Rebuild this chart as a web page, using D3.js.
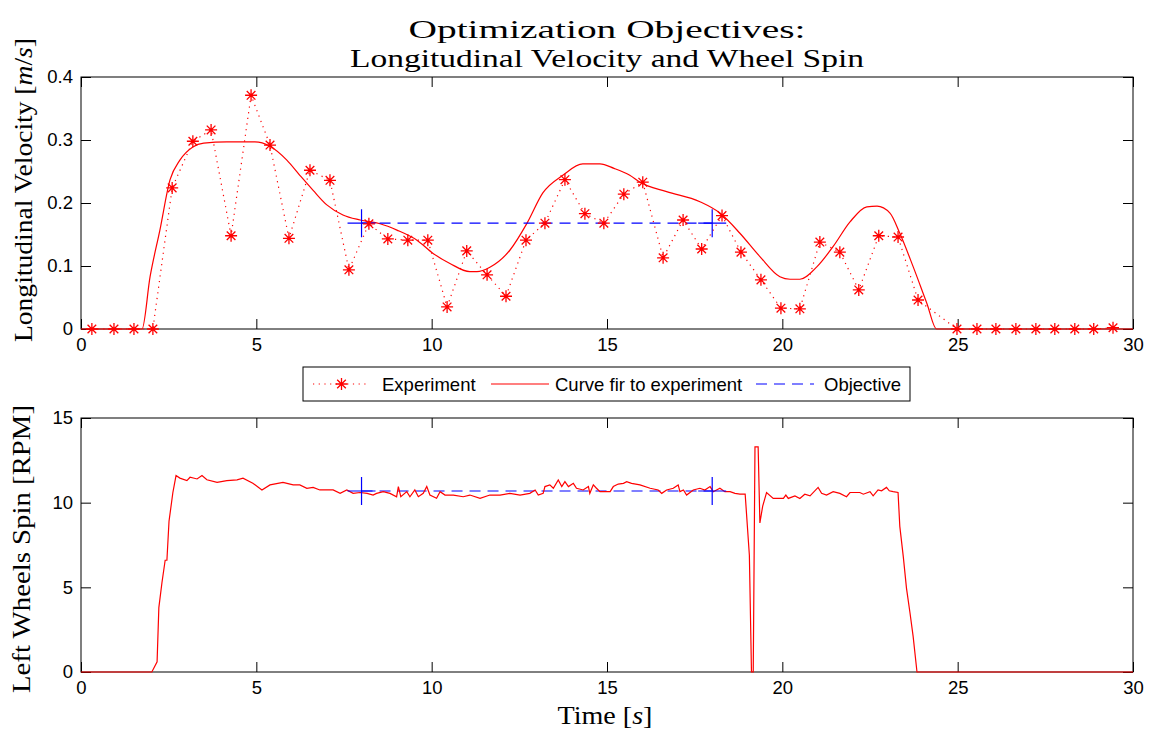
<!DOCTYPE html>
<html>
<head>
<meta charset="utf-8">
<script src="https://cdn.jsdelivr.net/npm/d3@7"></script>
<style>
  body { margin: 0; background: #fff; }
  text { fill: #000; }
</style>
</head>
<body>
<svg id="chart" width="1151" height="735"></svg>
<script>
// ---- data ----
const xTicks = [0, 5, 10, 15, 20, 25, 30];
const velTicks = [0, 0.1, 0.2, 0.3, 0.4];
const rpmTicks = [0, 5, 10, 15];

// experiment samples (stars + dotted line)
const expTime = [0.31, 0.94, 1.51, 2.05, 2.6, 3.19, 3.71, 4.28, 4.85, 5.39, 5.93, 6.53, 7.1, 7.64, 8.21, 8.75, 9.32, 9.89,
  10.44, 11.0, 11.58, 12.12, 12.69, 13.23, 13.8, 14.37, 14.91, 15.48, 16.02, 16.6, 17.17, 17.7, 18.28, 18.82, 19.39,
  19.96, 20.5, 21.07, 21.64, 22.18, 22.75, 23.3, 23.87, 24.98, 25.55, 26.09, 26.66, 27.23, 27.77, 28.34, 28.88, 29.43];
const expVel = [0, 0, 0, 0, 0.224, 0.298, 0.316, 0.148, 0.371, 0.292, 0.144, 0.252, 0.236, 0.094, 0.167, 0.143, 0.141, 0.141,
  0.035, 0.124, 0.086, 0.052, 0.141, 0.168, 0.237, 0.183, 0.168, 0.214, 0.233, 0.113, 0.173, 0.127, 0.18, 0.122, 0.078,
  0.033, 0.032, 0.138, 0.122, 0.062, 0.148, 0.146, 0.046, 0, 0, 0, 0, 0, 0, 0, 0, 0.002];

// curve fitted to the experiment
const fitTime = [0, 1.74, 1.97, 2.25, 2.54, 2.82, 3.19, 3.5, 4.16, 4.96, 5.39, 5.87, 6.24, 6.62, 7.01, 7.47, 7.96, 8.53,
  9.01, 9.58, 10.04, 10.52, 11.09, 11.29, 11.66, 12.23, 12.72, 13.17, 13.74, 14.31, 14.8, 15.2, 15.65, 15.94, 16.7,
  17.65, 18.22, 18.79, 19.36, 19.93, 20.22, 20.5, 20.99, 21.45, 21.93, 22.41, 22.7, 23.07, 23.35, 23.73, 24.12, 24.4, 30];
const fitVel = [0, 0, 0.083, 0.157, 0.237, 0.268, 0.289, 0.295, 0.297, 0.297, 0.29, 0.268, 0.244, 0.22, 0.197, 0.181, 0.173, 0.167,
  0.157, 0.141, 0.12, 0.104, 0.091, 0.091, 0.098, 0.125, 0.168, 0.216, 0.244, 0.262, 0.262, 0.255, 0.244, 0.233, 0.218,
  0.202, 0.184, 0.152, 0.115, 0.083, 0.079, 0.079, 0.099, 0.131, 0.17, 0.194, 0.195, 0.184, 0.152, 0.099, 0.041, 0, 0];

// left wheels spin
const spinTime = [0, 2.02, 2.17, 2.22, 2.31, 2.40, 2.45, 2.51, 2.62, 2.71,
  2.82, 3.02, 3.11, 3.31, 3.45, 3.59, 3.88, 4.16, 4.45, 4.62,
  4.90, 5.16, 5.39, 5.76, 6.05, 6.24, 6.44, 6.62, 6.81, 7.19,
  7.39, 7.58, 7.76, 7.96, 8.16, 8.33, 8.43, 8.62, 8.81, 9.00,
  9.05, 9.12, 9.29, 9.38, 9.52, 9.62, 9.76, 9.86, 9.95, 10.14,
  10.24, 10.38, 10.62, 10.90, 11.09, 11.38, 11.66, 11.95, 12.23, 12.52,
  12.80, 12.95, 13.04, 13.18, 13.23, 13.37, 13.47, 13.61, 13.71, 13.80,
  13.90, 14.04, 14.13, 14.32, 14.47, 14.51, 14.61, 14.70, 14.80, 15.09,
  15.18, 15.32, 15.47, 15.56, 15.70, 15.94, 16.23, 16.46, 16.56, 16.70,
  16.89, 17.03, 17.08, 17.18, 17.27, 17.46, 17.65, 17.79, 17.94, 18.03,
  18.22, 18.36, 18.51, 18.65, 18.79, 18.94, 19.06, 19.12, 19.17, 19.22,
  19.31, 19.36, 19.44, 19.55, 19.74, 20.03, 20.10, 20.17, 20.36, 20.50,
  20.64, 20.79, 21.02, 21.12, 21.26, 21.45, 21.64, 21.83, 21.93, 22.21,
  22.31, 22.50, 22.59, 22.73, 22.83, 22.97, 23.05, 23.16, 23.30, 23.35,
  23.45, 23.54, 23.64, 23.73, 23.84, 30];
const spinRpm = [0, 0, 0.6, 3.8, 5.3, 6.6, 6.6, 8.9, 10.6, 11.6,
  11.45, 11.3, 11.5, 11.4, 11.6, 11.35, 11.2, 11.3, 11.35, 11.45,
  11.15, 10.75, 11.05, 11.2, 11.05, 11.05, 10.85, 10.9, 10.75, 10.75,
  10.55, 10.75, 10.55, 10.6, 10.55, 10.45, 10.55, 10.65, 10.55, 10.35,
  10.95, 10.35, 10.65, 10.35, 10.75, 10.35, 10.55, 10.95, 10.45, 10.26,
  10.65, 10.45, 10.45, 10.35, 10.45, 10.26, 10.45, 10.45, 10.55, 10.45,
  10.55, 10.75, 10.45, 10.55, 10.95, 11.05, 10.85, 11.34, 10.95, 11.24,
  10.95, 11.14, 10.85, 10.75, 10.95, 10.55, 11.05, 10.85, 10.65, 10.65,
  10.95, 11.1, 11.14, 11.24, 11.14, 11.05, 10.85, 10.75, 10.55, 10.75,
  10.85, 11.05, 10.65, 10.75, 10.45, 10.75, 10.85, 10.75, 10.95, 10.65,
  10.85, 10.65, 10.65, 10.55, 10.51, 10.51, 6.9, 0, 0, 13.3,
  13.3, 8.8, 9.8, 10.6, 10.25, 10.25, 10.45, 10.25, 10.4, 10.25,
  10.5, 10.4, 10.9, 10.55, 10.45, 10.65, 10.55, 10.35, 10.6, 10.6,
  10.5, 10.65, 10.4, 10.75, 10.7, 10.9, 10.7, 10.65, 10.6, 8.6,
  6.8, 4.95, 3.5, 2.1, 0, 0];

// objectives
const objTime = [8, 18];
const objVel = [0.168, 0.168];
const objRpm = [10.69, 10.69];

// ---- drawing ----
const svg = d3.select("#chart");
const sans = "'Liberation Sans', Arial, Helvetica, sans-serif";
const serif = "'Liberation Serif', 'Times New Roman', serif";
const red = "#ff0000", blue = "#0000ff";

const x = d3.scaleLinear().domain([0, 30]).range([81, 1133]);
const yVel = d3.scaleLinear().domain([0, 0.4]).range([329, 77]);
const yRpm = d3.scaleLinear().domain([0, 15]).range([672, 418]);

function frame(y, yTicks) {
  const [yb, yt] = y.range();
  const fmt = d3.format("~g");
  const style = g => {
    g.select(".domain").remove();
    g.selectAll(".tick line").attr("stroke", "#000");
    g.selectAll(".tick text").attr("font-family", sans).attr("font-size", 18.5);
  };
  svg.append("g").attr("transform", `translate(0,${yb})`)
    .call(d3.axisBottom(x).tickValues(xTicks).tickSize(-10).tickPadding(9).tickFormat(fmt)).call(style);
  svg.append("g").attr("transform", `translate(0,${yt})`)
    .call(d3.axisTop(x).tickValues(xTicks).tickSize(-10).tickFormat("")).call(style);
  svg.append("g").attr("transform", `translate(${x.range()[0]},0)`)
    .call(d3.axisLeft(y).tickValues(yTicks).tickSize(-10).tickPadding(8).tickFormat(fmt)).call(style);
  svg.append("g").attr("transform", `translate(${x.range()[1]},0)`)
    .call(d3.axisRight(y).tickValues(yTicks).tickSize(-10).tickFormat("")).call(style);
  svg.append("rect")
    .attr("x", x.range()[0]).attr("y", yt)
    .attr("width", x.range()[1] - x.range()[0]).attr("height", yb - yt)
    .attr("fill", "none").attr("stroke", "#000").attr("stroke-width", 1);
}

function star(r) {
  const k = r * 0.72;
  return `M${-r},0H${r}M0,${-r}V${r}M${-k},${-k}L${k},${k}M${-k},${k}L${k},${-k}`;
}

function plusMarks(y, vals) {
  svg.append("g").selectAll("path").data(d3.zip(objTime, vals)).join("path")
    .attr("transform", d => `translate(${x(d[0])},${y(d[1])})`)
    .attr("d", "M-14,0H14M0,-14V14")
    .attr("stroke", blue).attr("stroke-width", 1.2).attr("fill", "none");
}

// ---- top panel ----
frame(yVel, velTicks);

const expPts = d3.zip(expTime, expVel);
svg.append("path").datum(expPts)
  .attr("d", d3.line().x(d => x(d[0])).y(d => yVel(d[1])))
  .attr("fill", "none").attr("stroke", red).attr("stroke-width", 1.2)
  .attr("stroke-dasharray", "1.2,4.5");

svg.append("path").datum(d3.zip(fitTime, fitVel))
  .attr("d", d3.line().x(d => x(d[0])).y(d => yVel(d[1])).curve(d3.curveMonotoneX))
  .attr("fill", "none").attr("stroke", red).attr("stroke-width", 1.2);

svg.append("path").datum(d3.zip(objTime, objVel))
  .attr("d", d3.line().x(d => x(d[0])).y(d => yVel(d[1])))
  .attr("fill", "none").attr("stroke", blue).attr("stroke-width", 1.2)
  .attr("stroke-dasharray", "11,7");
plusMarks(yVel, objVel);

svg.append("g").selectAll("path").data(expPts).join("path")
  .attr("transform", d => `translate(${x(d[0])},${yVel(d[1])})`)
  .attr("d", star(6)).attr("stroke", red).attr("stroke-width", 1.3).attr("fill", "none");

// ---- bottom panel ----
frame(yRpm, rpmTicks);

svg.append("path").datum(d3.zip(objTime, objRpm))
  .attr("d", d3.line().x(d => x(d[0])).y(d => yRpm(d[1])))
  .attr("fill", "none").attr("stroke", blue).attr("stroke-width", 1.2)
  .attr("stroke-dasharray", "11,7");

svg.append("path").datum(d3.zip(spinTime, spinRpm))
  .attr("d", d3.line().x(d => x(d[0])).y(d => yRpm(d[1])))
  .attr("fill", "none").attr("stroke", red).attr("stroke-width", 1.2);
plusMarks(yRpm, objRpm);

// ---- titles & labels ----
const title = svg.append("g").attr("font-family", serif).attr("font-size", 25).attr("text-anchor", "middle");
title.append("text").attr("x", 607).attr("y", 38)
  .attr("textLength", 397).attr("lengthAdjust", "spacingAndGlyphs")
  .text("Optimization Objectives:");
title.append("text").attr("x", 607).attr("y", 67)
  .attr("textLength", 514).attr("lengthAdjust", "spacingAndGlyphs")
  .text("Longitudinal Velocity and Wheel Spin");

const yl1 = svg.append("text").attr("font-family", serif).attr("font-size", 26)
  .attr("text-anchor", "middle").attr("transform", "translate(32,190) rotate(-90)")
  .attr("textLength", 304).attr("lengthAdjust", "spacingAndGlyphs");
yl1.append("tspan").text("Longitudinal Velocity [");
yl1.append("tspan").attr("font-style", "italic").text("m");
yl1.append("tspan").text("/");
yl1.append("tspan").attr("font-style", "italic").text("s");
yl1.append("tspan").text("]");

svg.append("text").attr("font-family", serif).attr("font-size", 26)
  .attr("text-anchor", "middle").attr("transform", "translate(30,549) rotate(-90)")
  .attr("textLength", 288).attr("lengthAdjust", "spacingAndGlyphs")
  .text("Left Wheels Spin [RPM]");

const xl = svg.append("text").attr("font-family", serif).attr("font-size", 26)
  .attr("text-anchor", "middle").attr("x", 605).attr("y", 724)
  .attr("textLength", 95).attr("lengthAdjust", "spacingAndGlyphs");
xl.append("tspan").text("Time [");
xl.append("tspan").attr("font-style", "italic").text("s");
xl.append("tspan").text("]");

// ---- legend ----
const lg = svg.append("g");
lg.append("rect").attr("x", 303).attr("y", 367).attr("width", 607).attr("height", 34)
  .attr("fill", "#fff").attr("stroke", "#000").attr("stroke-width", 1);
const ly = 384;
const legendItems = [
  { label: "Experiment", x0: 313, x1: 370, tx: 382, color: red, dash: "1.2,4.5", marker: true },
  { label: "Curve fir to experiment", x0: 491, x1: 549, tx: 555, color: red, dash: null, marker: false },
  { label: "Objective", x0: 756, x1: 814, tx: 824, color: blue, dash: "11,7", marker: false }
];
legendItems.forEach(it => {
  lg.append("line").attr("x1", it.x0).attr("x2", it.x1).attr("y1", ly).attr("y2", ly)
    .attr("stroke", it.color).attr("stroke-width", 1.2)
    .attr("stroke-dasharray", it.dash);
  if (it.marker) {
    lg.append("path").attr("transform", `translate(${(it.x0 + it.x1) / 2},${ly})`)
      .attr("d", star(6)).attr("stroke", red).attr("stroke-width", 1.3).attr("fill", "none");
  }
  lg.append("text").attr("x", it.tx).attr("y", ly + 6.5)
    .attr("font-family", sans).attr("font-size", 18.5).text(it.label);
});
</script>
</body>
</html>
